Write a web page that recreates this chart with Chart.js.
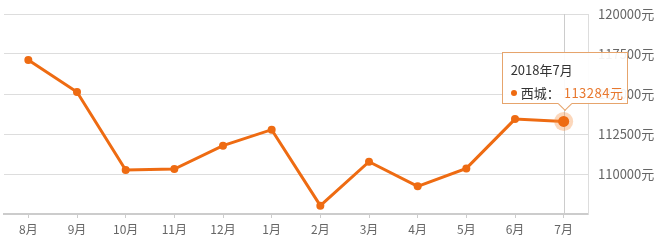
<!DOCTYPE html>
<html>
<head>
<meta charset="utf-8">
<script src="https://cdn.jsdelivr.net/npm/chart.js@4"></script>
<style>
    html, body { margin: 0; padding: 0; background: #fff; }
    #wrap { position: relative; width: 662px; height: 244px; }
    #tip {
        position: absolute; display: none; box-sizing: border-box;
        width: 126px; height: 52px; padding: 7px 0 0 8px;
        background: rgba(255, 255, 255, 0.92); border: 1px solid #e6a46c;
        font-family: "Noto Sans CJK SC", sans-serif; font-size: 13px; color: #333;
        pointer-events: none;
    }
    #tip:after {
        content: ""; position: absolute; left: 57px; bottom: -6px;
        width: 9px; height: 9px; background: #fff;
        border-right: 1px solid #e6a46c; border-bottom: 1px solid #e6a46c;
        transform: rotate(45deg);
    }
    #tip .row { margin-top: 4px; white-space: nowrap; }
    #tip .dot { display: inline-block; width: 6px; height: 6px; border-radius: 3px; background: #ee6b12; margin-right: 4px; vertical-align: 2px; }
    #tip .val { color: #e8782e; margin-left: 4px; letter-spacing: 0.5px; }
</style>
</head>
<body>
<div id="wrap">
    <canvas id="canvas" width="662" height="244"></canvas>
    <div id="tip"></div>
</div>
<script>
var MONTHS = ["8月", "9月", "10月", "11月", "12月", "1月", "2月", "3月", "4月", "5月", "6月", "7月"];
var TIP_TITLES = ["2017年8月", "2017年9月", "2017年10月", "2017年11月", "2017年12月", "2018年1月",
    "2018年2月", "2018年3月", "2018年4月", "2018年5月", "2018年6月", "2018年7月"];
var SERIES_NAME = "西城";
var PRICES = [117125, 115125, 110250, 110310, 111770, 112770, 108020, 110770, 109230, 110350, 113430, 113284];
var Y_MIN = 107500, Y_MAX = 120000, Y_STEP = 2500;
var ACTIVE_INDEX = 11;

var orange = "#ee6b12";

// crosshair + halo on the active point
var hoverDeco = {
    id: "hoverDeco",
    beforeDatasetsDraw: function (chart) {
        var act = chart.getActiveElements();
        if (!act.length) return;
        var pt = act[0].element;
        var ctx = chart.ctx, area = chart.chartArea;
        ctx.save();
        ctx.strokeStyle = "#cccccc";
        ctx.lineWidth = 1;
        ctx.beginPath();
        ctx.moveTo(Math.round(pt.x) + 0.5, area.top);
        ctx.lineTo(Math.round(pt.x) + 0.5, area.bottom);
        ctx.stroke();
        ctx.restore();
    },
    afterDatasetsDraw: function (chart) {
        var act = chart.getActiveElements();
        if (!act.length) return;
        var pt = act[0].element;
        var ctx = chart.ctx;
        ctx.save();
        ctx.fillStyle = "rgba(246, 140, 60, 0.35)";
        ctx.beginPath();
        ctx.arc(pt.x, pt.y, 9.5, 0, Math.PI * 2);
        ctx.fill();
        ctx.fillStyle = orange;
        ctx.beginPath();
        ctx.arc(pt.x, pt.y, 5.5, 0, Math.PI * 2);
        ctx.fill();
        ctx.restore();
    }
};

function externalTip(context) {
    var tip = document.getElementById("tip");
    var tm = context.tooltip;
    if (tm.opacity === 0 || !tm.dataPoints || !tm.dataPoints.length) {
        tip.style.display = "none";
        return;
    }
    var i = tm.dataPoints[0].dataIndex;
    tip.innerHTML = '<div>' + TIP_TITLES[i] + '</div>' +
        '<div class="row"><span class="dot"></span>' + SERIES_NAME + '：<span class="val">' + PRICES[i] + '元</span></div>';
    tip.style.display = "block";
    tip.style.left = (tm.caretX - 62) + "px";
    tip.style.top = (tm.caretY - 69) + "px";
}

var ctx = document.getElementById("canvas").getContext("2d");
var chart = new Chart(ctx, {
    type: "line",
    data: {
        labels: MONTHS,
        datasets: [{
            label: SERIES_NAME,
            data: PRICES,
            borderColor: orange,
            backgroundColor: orange,
            borderWidth: 3,
            pointRadius: 4,
            pointHoverRadius: 4,
            pointBackgroundColor: orange,
            pointBorderWidth: 0,
            tension: 0
        }]
    },
    plugins: [hoverDeco],
    options: {
        responsive: false,
        animation: false,
        events: [],
        layout: { padding: { left: 4, top: 14, right: 0, bottom: 0 } },
        plugins: {
            legend: { display: false },
            title: { display: false },
            tooltip: { enabled: false, external: externalTip }
        },
        scales: {
            x: {
                offset: true,
                grid: { offset: false, drawOnChartArea: false, color: "#cccccc", tickLength: 4 },
                border: { color: "#cccccc", width: 2 },
                ticks: {
                    color: "#666666", padding: 4, maxRotation: 0, autoSkip: false,
                    font: { family: "Noto Sans CJK SC", size: 12 }
                },
                afterFit: function (scale) { scale.height = 30; }
            },
            y: {
                position: "right",
                min: Y_MIN, max: Y_MAX,
                grid: { color: "#dddddd", drawTicks: false },
                border: { color: "#dddddd", width: 1 },
                ticks: {
                    stepSize: Y_STEP, padding: 10, color: "#666666",
                    font: { family: "Noto Sans CJK SC", size: 13 },
                    callback: function (v) { return v === Y_MIN ? "" : v + "元"; }
                },
                afterFit: function (scale) {
                    scale.width = 74;
                    scale.paddingTop = 0;
                    scale.paddingBottom = 0;
                }
            }
        }
    }
});

var meta = chart.getDatasetMeta(0).data[ACTIVE_INDEX];
chart.setActiveElements([{ datasetIndex: 0, index: ACTIVE_INDEX }]);
chart.tooltip.setActiveElements([{ datasetIndex: 0, index: ACTIVE_INDEX }], { x: meta.x, y: meta.y });
chart.update();
</script>
</body>
</html>
